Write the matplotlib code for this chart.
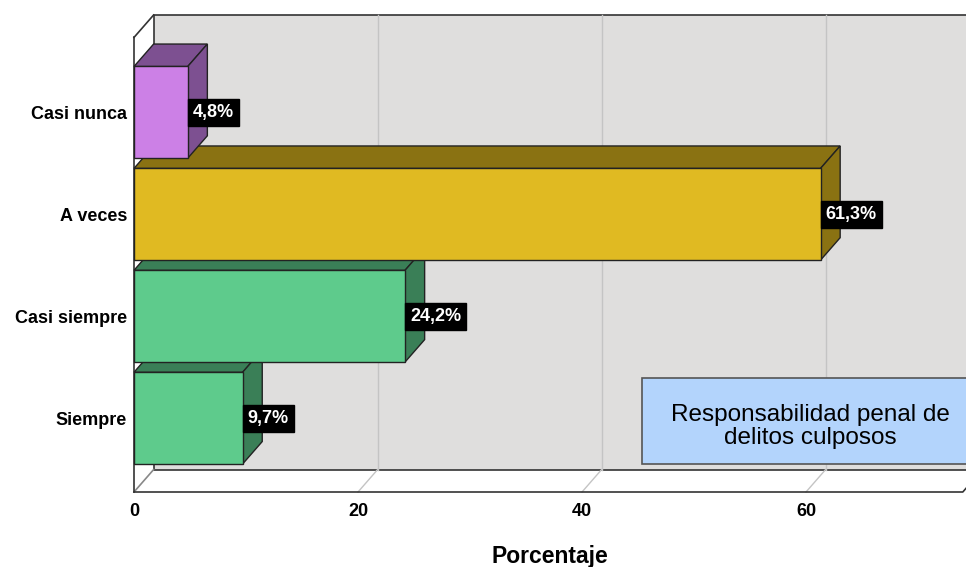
import matplotlib.pyplot as plt
from matplotlib.patches import Polygon, Rectangle

# data (SPSS style 3D bar chart)
categorias = ['Siempre', 'Casi siempre', 'A veces', 'Casi nunca']
porcentajes = [9.7, 24.2, 61.3, 4.8]
etiquetas = ['9,7%', '24,2%', '61,3%', '4,8%']
frentes = ['#5ecb8c', '#5ecb8c', '#e0ba22', '#cc80e6']
lados = ['#3a7f57', '#3a7f57', '#8a7212', '#7d5091']
ticks_x = [0, 20, 40, 60]
titulo_leyenda = 'Responsabilidad penal de\ndelitos culposos'

plt.rcParams['font.family'] = ['Liberation Sans', 'DejaVu Sans']

# depth of the 3D effect (in data units)
dx, dy = 1.75, 0.22
alto = 0.9
xmax = 74.0
y0, y1 = -0.725, 3.735   # front plane bottom / top

fig = plt.figure(figsize=(9.66, 5.67), dpi=100)
ax = fig.add_axes([134/966, 75/567, 832/966, 477/567])
ax.set_xlim(0, 832/11.2)
ax.set_ylim(y0, y1 + dy)
for s in ax.spines.values():
    s.set_visible(False)

# back wall
ax.add_patch(Rectangle((dx, y0 + dy), 90, y1 - y0, facecolor='#dfdedd',
                       edgecolor='#333333', lw=1.2, clip_on=False, zorder=0))
# gridlines on back wall and floor
for t in ticks_x[1:]:
    ax.plot([t + dx, t + dx], [y0 + dy, y1 + dy], color='#c4c4c4', lw=1, zorder=1, clip_on=False)
    ax.plot([t, t + dx], [y0, y0 + dy], color='#c4c4c4', lw=1, zorder=1, clip_on=False)
ax.plot([0, dx], [y0, y0 + dy], color='#888888', lw=1.2, zorder=1, clip_on=False)
# front frame lines
ax.plot([0, 0], [y0, y1], color='#333333', lw=1.2, zorder=1, clip_on=False)
ax.plot([0, dx], [y1, y1 + dy], color='#333333', lw=1.2, zorder=1, clip_on=False)
ax.plot([0, xmax, xmax + dx, 90], [y0, y0, y0 + dy, y0 + dy], color='#333333', lw=1.2,
        zorder=1, clip_on=False)

# bars, drawn bottom to top so the front faces cover the top faces below
for i, (v, lab, fc, sc) in enumerate(zip(porcentajes, etiquetas, frentes, lados)):
    b, t = i - alto / 2, i + alto / 2
    z = 2 + i
    ax.add_patch(Polygon([(0, t), (v, t), (v + dx, t + dy), (dx, t + dy)],
                         facecolor=sc, edgecolor='#222222', lw=1, zorder=z, clip_on=False))
    ax.add_patch(Polygon([(v, b), (v + dx, b + dy), (v + dx, t + dy), (v, t)],
                         facecolor=sc, edgecolor='#222222', lw=1, zorder=z, clip_on=False))
    ax.add_patch(Rectangle((0, b), v, alto, facecolor=fc, edgecolor='#222222',
                           lw=1, zorder=z, clip_on=False))
    ax.text(v + 0.45, i, lab, color='white', fontsize=13, fontweight='bold',
            ha='left', va='center', zorder=10,
            bbox=dict(boxstyle='square,pad=0.28', facecolor='black', edgecolor='black'))

ax.set_xticks(ticks_x)
ax.set_xticklabels([str(t) for t in ticks_x], fontsize=13, fontweight='bold')
ax.set_yticks(range(len(categorias)))
ax.set_yticklabels(categorias, fontsize=13, fontweight='bold')
ax.tick_params(length=0)
ax.tick_params(axis='x', pad=8)
ax.tick_params(axis='y', pad=5)
ax.set_xlabel('Porcentaje', fontsize=16.5, fontweight='bold', labelpad=18)

# legend box
ax.add_patch(Rectangle((0.611, 0.059), 0.5, 0.18, transform=ax.transAxes,
                       facecolor='#b3d4fc', edgecolor='#555555', lw=1.2,
                       clip_on=False, zorder=12))
ax.text(0.8125, 0.138, titulo_leyenda, transform=ax.transAxes, fontsize=17.5,
        ha='center', va='center', linespacing=1.05, zorder=13)

fig.savefig('out.png', dpi=100)
